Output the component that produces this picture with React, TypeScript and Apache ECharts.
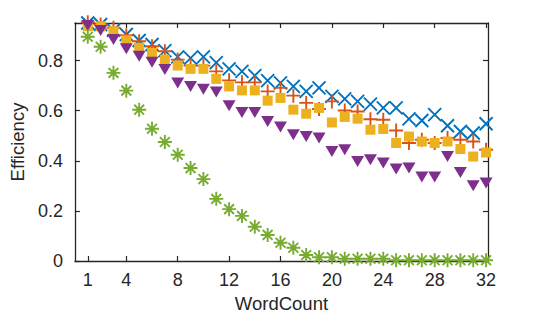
import React, { useEffect, useRef } from "react";
import * as echarts from "echarts";

const wordCounts = Array.from({ length: 32 }, (_, i) => i + 1);
const xTicks = [1, 4, 8, 12, 16, 20, 24, 28, 32];
const yTicks = [0, 0.2, 0.4, 0.6, 0.8];

const blueX = [0.95, 0.944, 0.921, 0.904, 0.88, 0.864, 0.84, 0.815, 0.81, 0.815, 0.792, 0.767, 0.757, 0.74, 0.72, 0.711, 0.697, 0.677, 0.691, 0.657, 0.647, 0.637, 0.626, 0.611, 0.611, 0.567, 0.561, 0.584, 0.54, 0.517, 0.511, 0.548];
const orangePlus = [0.953, 0.944, 0.931, 0.901, 0.877, 0.857, 0.837, 0.804, 0.78, 0.78, 0.757, 0.721, 0.713, 0.713, 0.677, 0.691, 0.66, 0.631, 0.607, 0.637, 0.601, 0.597, 0.566, 0.564, 0.521, 0.471, 0.484, 0.471, 0.491, 0.484, 0.477, 0.444];
const yellowSquare = [0.937, 0.937, 0.917, 0.881, 0.851, 0.831, 0.804, 0.78, 0.767, 0.767, 0.727, 0.697, 0.681, 0.681, 0.64, 0.651, 0.604, 0.588, 0.611, 0.553, 0.575, 0.568, 0.524, 0.527, 0.471, 0.497, 0.477, 0.471, 0.477, 0.447, 0.417, 0.433];
const purpleTriangle = [0.94, 0.92, 0.884, 0.847, 0.817, 0.793, 0.764, 0.711, 0.697, 0.686, 0.675, 0.62, 0.593, 0.593, 0.557, 0.535, 0.504, 0.497, 0.491, 0.437, 0.444, 0.397, 0.404, 0.391, 0.367, 0.371, 0.335, 0.335, 0.417, 0.353, 0.3, 0.311];
const greenStar = [0.895, 0.855, 0.751, 0.68, 0.604, 0.528, 0.475, 0.424, 0.371, 0.327, 0.248, 0.207, 0.18, 0.137, 0.104, 0.073, 0.053, 0.024, 0.015, 0.015, 0.009, 0.009, 0.009, 0.009, 0.003, 0.003, 0.003, 0.003, 0.003, 0.003, 0.003, 0.003];

const AXIS = "#262626";
const FONT = "'Liberation Sans', Arial, Helvetica, sans-serif";

const pair = (vals: number[]) => vals.map((v, i) => [wordCounts[i], v]);

export default function App() {
  const ref = useRef<HTMLDivElement>(null);
  useEffect(() => {
    if (!ref.current) return;
    const chart = echarts.init(ref.current, null, { renderer: "svg" });
    const baseAxis = {
      axisLine: { show: true, onZero: false, lineStyle: { color: AXIS, width: 1.3 } },
      splitLine: { show: false },
    };
    const lineSym = (name: string, path: string, color: string, size: number, data: number[]) => ({
      name,
      type: "scatter",
      symbol: path,
      symbolSize: size,
      clip: false,
      itemStyle: { color: "none", borderColor: color, borderWidth: 1.9, opacity: 1 },
      data: pair(data),
    });
    chart.setOption({
      animation: false,
      grid: { left: 70, right: 52, top: 23, bottom: 60 },
      xAxis: [
        {
          ...baseAxis,
          type: "value",
          min: 0,
          max: 32.15,
          position: "bottom",
          name: "WordCount",
          nameLocation: "middle",
          nameGap: 30,
          nameTextStyle: { color: AXIS, fontSize: 18.5, fontFamily: FONT },
          axisTick: { show: true, inside: true, length: 5, customValues: xTicks, lineStyle: { color: AXIS, width: 1.2 } },
          axisLabel: { customValues: xTicks, color: AXIS, fontSize: 18, fontFamily: FONT, margin: 10 },
        },
        {
          ...baseAxis,
          type: "value",
          min: 0,
          max: 32.15,
          position: "top",
          axisTick: { show: true, inside: true, length: 5, customValues: xTicks, lineStyle: { color: AXIS, width: 1.2 } },
          axisLabel: { show: false },
        },
      ],
      yAxis: [
        {
          ...baseAxis,
          type: "value",
          min: 0,
          max: 0.95,
          position: "left",
          name: "Efficiency",
          nameLocation: "middle",
          nameGap: 44,
          nameTextStyle: { color: AXIS, fontSize: 18.5, fontFamily: FONT },
          axisTick: { show: true, inside: true, length: 5, customValues: yTicks, lineStyle: { color: AXIS, width: 1.2 } },
          axisLabel: { customValues: yTicks, color: AXIS, fontSize: 18, fontFamily: FONT, margin: 12 },
        },
        {
          ...baseAxis,
          type: "value",
          min: 0,
          max: 0.95,
          position: "right",
          axisTick: { show: true, inside: true, length: 5, customValues: yTicks, lineStyle: { color: AXIS, width: 1.2 } },
          axisLabel: { show: false },
        },
      ],
      series: [
        lineSym("s1", "path://M0,0L10,10M10,0L0,10", "#0072BD", 13, blueX),
        lineSym("s2", "path://M5,0L5,10M0,5L10,5", "#D95319", 14, orangePlus),
        {
          name: "s3",
          type: "scatter",
          symbol: "rect",
          symbolSize: 10,
          clip: false,
          itemStyle: { color: "#EDB120", opacity: 1 },
          data: pair(yellowSquare),
        },
        {
          name: "s4",
          type: "scatter",
          symbol: "triangle",
          symbolRotate: 180,
          symbolSize: [13, 11],
          clip: false,
          itemStyle: { color: "#7E2F8E", opacity: 1 },
          data: pair(purpleTriangle),
        },
        lineSym("s5", "path://M5,0L5,10M0,5L10,5M1.5,1.5L8.5,8.5M8.5,1.5L1.5,8.5", "#77AC30", 14, greenStar),
      ],
    });
    return () => chart.dispose();
  }, []);
  return <div ref={ref} style={{ position: "absolute", left: 0, top: 0, width: 540, height: 321, background: "#fff" }} />;
}
